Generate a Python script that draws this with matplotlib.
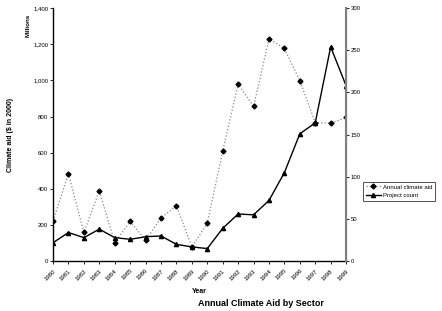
import matplotlib
matplotlib.use('Agg')

import matplotlib.pyplot as plt
import numpy as np

plt.rcParams['font.family'] = ['Liberation Sans', 'DejaVu Sans']

years = [str(y) for y in range(1980, 2000)]
climate_aid = [223, 485, 159, 389, 103, 221, 116, 240, 306, 80,
               209, 609, 980, 856, 1230, 1177, 998, 767, 763, 795]
project_count = [22, 34, 28, 38, 28, 26, 29, 30, 20, 17,
                 15, 39, 56, 55, 72, 105, 151, 164, 254, 208]

fig = plt.figure(figsize=(4.42, 3.11), dpi=100)
ax = fig.add_axes([0.12, 0.16, 0.663, 0.814])
ax2 = ax.twinx()

x = np.arange(len(years))
l1, = ax.plot(x, climate_aid, linestyle=':', color='#888888', linewidth=0.9,
              marker='D', markersize=2.5, markerfacecolor='black',
              markeredgecolor='black', label='Annual climate aid')
l2, = ax2.plot(x, project_count, linestyle='-', color='black', linewidth=1.0,
               marker='^', markersize=3.0, markerfacecolor='black',
               markeredgecolor='black', label='Project count')

ax.set_xlim(0, len(years) - 1)
ax.set_ylim(0, 1400)
ax2.set_ylim(0, 300)
ax.set_yticks(range(0, 1401, 200))
ax.set_yticklabels([f'{v:,}' for v in range(0, 1401, 200)])
ax2.set_yticks(range(0, 301, 50))
ax.set_xticks(x)
ax.set_xticklabels(years, rotation=45, ha='right', rotation_mode='anchor')

for a in (ax, ax2):
    a.spines['top'].set_visible(False)
    a.tick_params(labelsize=4.3, length=2, width=0.6, pad=1.5)
ax.tick_params(axis='x', pad=3)
ax.spines['left'].set_linewidth(1.0)
ax.spines['bottom'].set_linewidth(1.0)
ax2.spines['right'].set_color('#808080')
ax2.spines['right'].set_linewidth(1.5)
ax2.spines['left'].set_visible(False)
ax2.spines['bottom'].set_visible(False)

ax.set_xlabel('Year', fontsize=5, fontweight='bold', labelpad=5)
ax.set_ylabel('Climate aid ($ in 2000)', fontsize=5, fontweight='bold', labelpad=14)
fig.text(0.063, 0.92, 'Millions', rotation=90, fontsize=4.5, fontweight='bold',
         ha='center', va='center')
fig.text(0.59, 0.01, 'Annual Climate Aid by Sector', fontsize=6.5,
         fontweight='bold', ha='center', va='bottom')

leg = fig.legend([l1, l2], ['Annual climate aid', 'Project count'],
                 loc='upper left', bbox_to_anchor=(0.822, 0.415), fontsize=4.3,
                 frameon=True, fancybox=False, edgecolor='black',
                 borderpad=0.4, handlelength=2.6, handletextpad=0.3,
                 labelspacing=0.6, borderaxespad=0)
leg.get_frame().set_linewidth(0.6)

fig.savefig('out.png', dpi=100)
